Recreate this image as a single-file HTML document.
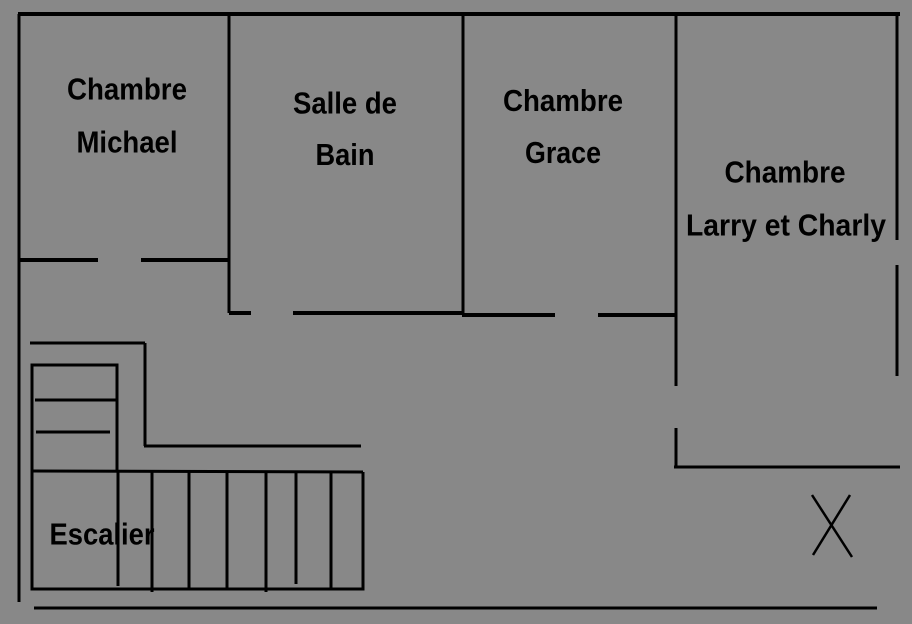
<!DOCTYPE html>
<html><head><meta charset="utf-8"><style>
html,body{margin:0;padding:0;background:#888;}
svg{display:block}
text{font-family:"Liberation Sans",sans-serif;font-weight:bold;font-size:28px;fill:#000;text-anchor:middle}
</style></head><body>
<svg width="912" height="624" viewBox="0 0 912 624" xmlns="http://www.w3.org/2000/svg">
<rect width="912" height="624" fill="#888"/>
<g stroke="#000" stroke-width="3" fill="none" stroke-linecap="butt">
<line x1="18" y1="14" x2="900" y2="14" stroke-width="4"/>
<line x1="19" y1="14" x2="19" y2="602"/>
<line x1="897" y1="14" x2="897" y2="240"/>
<line x1="897" y1="265" x2="897" y2="376"/>
<line x1="229" y1="14" x2="229" y2="313"/>
<line x1="19" y1="260" x2="98" y2="260" stroke-width="4"/>
<line x1="141" y1="260" x2="229" y2="260" stroke-width="4"/>
<line x1="229" y1="313" x2="251" y2="313" stroke-width="4"/>
<line x1="293" y1="313" x2="463" y2="313" stroke-width="4"/>
<line x1="463" y1="14" x2="463" y2="313"/>
<line x1="462" y1="315" x2="555" y2="315" stroke-width="4"/>
<line x1="598" y1="315" x2="677" y2="315" stroke-width="4"/>
<line x1="676" y1="14" x2="676" y2="386"/>
<line x1="676" y1="428" x2="676" y2="467"/>
<line x1="674" y1="467" x2="900" y2="467"/>
<line x1="30" y1="343" x2="145" y2="343"/>
<line x1="145" y1="343" x2="145" y2="446"/>
<line x1="144" y1="446" x2="361" y2="446"/>
<polyline points="32,471 32,365 117,365 117,472"/>
<line x1="35" y1="400" x2="117" y2="400"/>
<line x1="36" y1="432" x2="110" y2="432"/>
<line x1="32" y1="471" x2="363" y2="472"/>
<polyline points="32,471 32,589 363,589 363,472"/>
<line x1="118" y1="472" x2="118" y2="586"/>
<line x1="152" y1="472" x2="152" y2="592"/>
<line x1="189" y1="472" x2="189" y2="589"/>
<line x1="227" y1="472" x2="227" y2="589"/>
<line x1="266" y1="472" x2="266" y2="592"/>
<line x1="296" y1="472" x2="296" y2="584"/>
<line x1="331" y1="472" x2="331" y2="589"/>
<line x1="34" y1="608" x2="877" y2="608"/>
<line x1="812" y1="495" x2="852" y2="557" stroke-width="2.5"/>
<line x1="850" y1="495" x2="813" y2="555" stroke-width="2.5"/>
</g>
<g transform="scale(1,1.08)">
<text x="127" y="92" textLength="120" lengthAdjust="spacingAndGlyphs">Chambre</text>
<text x="127" y="141" textLength="101" lengthAdjust="spacingAndGlyphs">Michael</text>
<text x="345" y="105" textLength="104" lengthAdjust="spacingAndGlyphs">Salle de</text>
<text x="345" y="153" textLength="59" lengthAdjust="spacingAndGlyphs">Bain</text>
<text x="563" y="103" textLength="120" lengthAdjust="spacingAndGlyphs">Chambre</text>
<text x="563" y="151" textLength="76" lengthAdjust="spacingAndGlyphs">Grace</text>
<text x="785" y="169" textLength="121" lengthAdjust="spacingAndGlyphs">Chambre</text>
<text x="786" y="218" textLength="200" lengthAdjust="spacingAndGlyphs">Larry et Charly</text>
<text x="102" y="504" textLength="105" lengthAdjust="spacingAndGlyphs">Escalier</text>
</g>
</svg>
</body></html>
